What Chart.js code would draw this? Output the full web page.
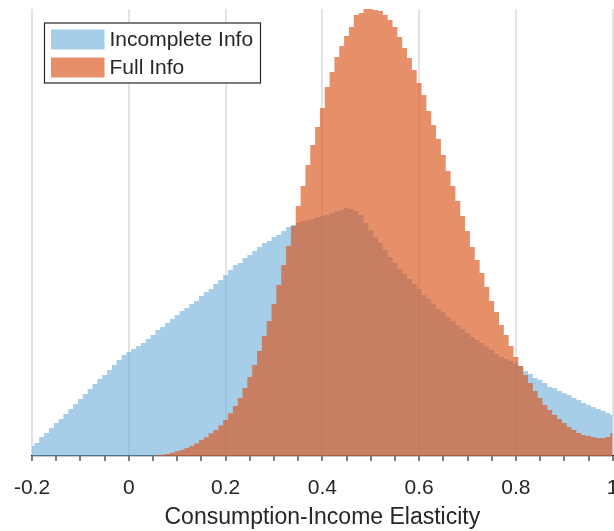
<!DOCTYPE html>
<html>
<head>
<meta charset="utf-8">
<title>Consumption-Income Elasticity</title>
<script src="https://cdn.jsdelivr.net/npm/chart.js@4"></script>
<style>
  html, body { margin: 0; padding: 0; background: #fff; }
  #wrap { width: 614px; height: 531px; position: relative; }
</style>
</head>
<body>
<div id="wrap"><canvas id="histo"></canvas></div>
<script>
// bins are 0.01 wide, centred on -0.20, -0.19, ... 1.00
const binStart = -0.2;
const binWidth = 0.01;

// bin heights (draws per bin, hundreds)
const incompleteInfo = [
  10, 13, 19, 23, 28, 33, 37, 42, 47, 52,
  57, 62, 67, 72, 77, 81, 86, 91, 96, 101,
  104, 107, 110, 113, 117, 121, 126, 129, 133, 137,
  141, 145, 148, 152, 155, 160, 164, 167, 172, 176,
  181, 186, 191, 193, 198, 201, 205, 209, 213, 215,
  219, 221, 225, 229, 231, 233, 235, 236, 237, 239,
  240, 241, 243, 245, 246, 248, 247, 245, 241, 233,
  226, 219, 213, 206, 199, 193, 187, 182, 177, 172,
  167, 161, 157, 152, 147, 144, 139, 135, 131, 127,
  123, 119, 116, 113, 109, 106, 102, 99, 97, 95,
  92, 90, 85, 82, 78, 76, 73, 69, 68, 65,
  63, 61, 58, 56, 53, 51, 49, 47, 45, 43,
  41
];

const fullInfo = [
  0, 0, 0, 0, 0, 0, 0, 0, 0, 0,
  0, 0, 0, 0, 0, 0, 0, 0, 0, 0,
  0, 0, 0, 0, 0, 0, 1, 1.3, 2, 3.3,
  4.7, 6, 8, 10, 12.7, 16, 18.7, 22.7, 26, 30.7,
  36, 42.7, 50, 58, 68, 79, 91, 105, 120, 135,
  152, 171, 191, 210, 230, 250, 270, 291, 311, 329,
  348, 369, 384, 399, 410, 420, 429, 441, 443, 447,
  447, 446, 445, 441, 436, 429, 419, 408, 398, 386,
  373, 361, 345, 331, 317, 301, 285, 270, 255, 240,
  225, 209, 196, 183, 169, 155, 144, 131, 121, 110,
  99, 90, 81, 73, 65, 58, 51, 46, 41, 37,
  33, 29, 26, 23, 21, 20, 19, 18, 18, 19,
  23
];

const seriesNames = ['Incomplete Info', 'Full Info'];
const xTicks = [-0.2, 0, 0.2, 0.4, 0.6, 0.8, 1];

const binCenters = incompleteInfo.map((_, i) => +(binStart + i * binWidth).toFixed(2));
const toPoints = arr => arr.map((v, i) => ({ x: binCenters[i], y: v }));

const isMajor = v => xTicks.some(t => Math.abs(t - v) < 1e-6);
const FONT = "'Liberation Sans', Arial, Helvetica, sans-serif";
const INK = '#262626';

// legend box in the upper left corner, drawn on top of everything
const boxLegend = {
  id: 'boxLegend',
  afterDraw(chart) {
    const ctx = chart.ctx;
    const x = 44.5, y = 23, w = 216, h = 60;
    ctx.save();
    ctx.fillStyle = '#fff';
    ctx.fillRect(x, y, w, h);
    ctx.strokeStyle = INK;
    ctx.lineWidth = 1.2;
    ctx.strokeRect(x, y, w, h);
    ctx.font = '21px ' + FONT;
    ctx.textBaseline = 'middle';
    ctx.textAlign = 'left';
    [incompleteDs, fullDs].forEach((ds, i) => {
      const py = y + 6.5 + i * 28;
      ctx.fillStyle = ds.backgroundColor;
      ctx.fillRect(x + 6.5, py, 53.5, 20);
      ctx.fillStyle = INK;
      ctx.fillText(ds.label, x + 65, py + 11);
    });
    ctx.restore();
  }
};

const incompleteDs = {
  label: seriesNames[0],
  data: toPoints(incompleteInfo),
  backgroundColor: 'rgba(107, 173, 218, 0.6)',
  borderWidth: 0,
  pointRadius: 0,
  stepped: 'middle',
  fill: 'origin',
  order: 2
};

const fullDs = {
  label: seriesNames[1],
  data: toPoints(fullInfo),
  backgroundColor: 'rgba(217, 83, 25, 0.65)',
  borderWidth: 0,
  pointRadius: 0,
  stepped: 'middle',
  fill: 'origin',
  order: 1
};

new Chart(document.getElementById('histo'), {
  type: 'line',
  data: { datasets: [incompleteDs, fullDs] },
  plugins: [boxLegend],
  options: {
    responsive: true,
    maintainAspectRatio: false,
    animation: false,
    layout: { padding: { left: 32, right: 1.3, top: 9, bottom: 0 } },
    plugins: {
      legend: { display: false },
      tooltip: { enabled: false }
    },
    scales: {
      x: {
        type: 'linear',
        min: -0.2,
        max: 1,
        afterFit(scale) {
          scale.height = 75;
          scale.paddingLeft = 0;
          scale.paddingRight = 0;
        },
        border: { display: true, color: INK, width: 1.3 },
        grid: {
          color: c => isMajor(c.tick.value) ? '#e3e3e3' : 'rgba(0,0,0,0)',
          lineWidth: 2,
          drawTicks: true,
          tickLength: 5,
          tickColor: INK,
          tickWidth: 1.2
        },
        ticks: {
          stepSize: 0.05,
          autoSkip: false,
          maxRotation: 0,
          padding: 15,
          color: INK,
          font: { family: FONT, size: 21 },
          callback: v => isMajor(v) ? (Math.abs(v) < 1e-6 ? '0' : String(+v.toFixed(1))) : ''
        },
        title: {
          display: true,
          text: 'Consumption-Income Elasticity',
          color: INK,
          font: { family: FONT, size: 23 },
          padding: { top: 0, bottom: 0 }
        }
      },
      y: {
        display: false,
        min: 0,
        max: 447
      }
    }
  }
});
</script>
</body>
</html>
